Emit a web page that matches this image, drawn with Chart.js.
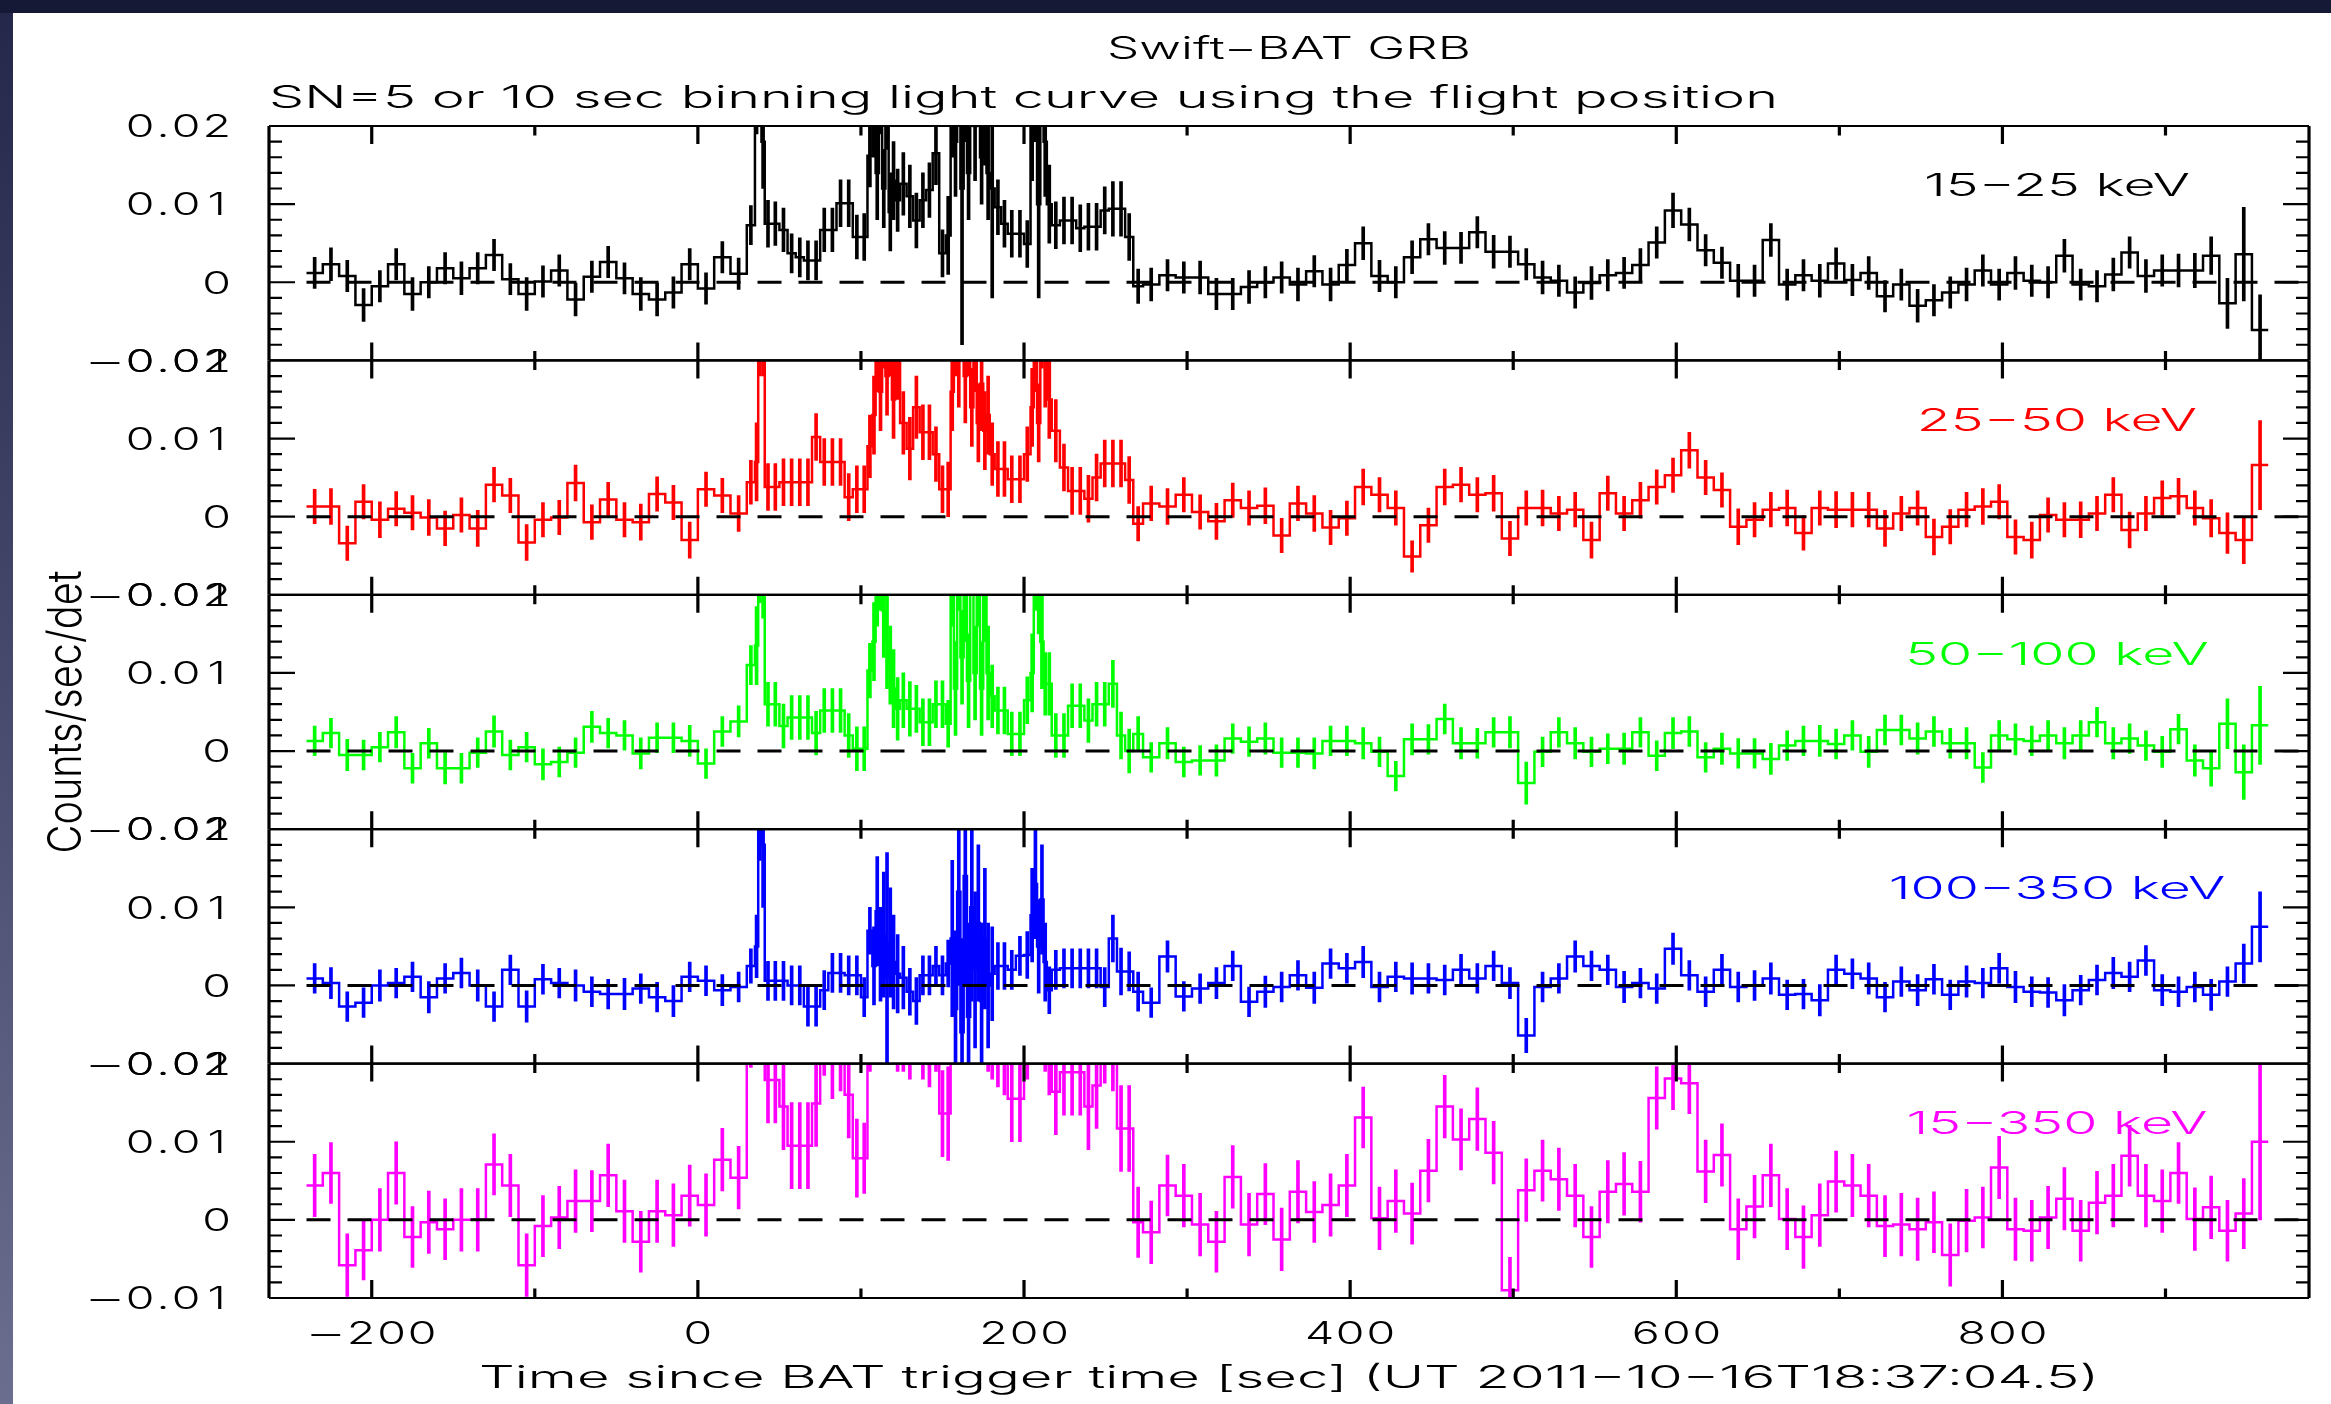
<!DOCTYPE html>
<html>
<head>
<meta charset="utf-8">
<title>Swift-BAT GRB light curve</title>
<script src="https://cdn.jsdelivr.net/npm/chart.js@4.4.0/dist/chart.umd.min.js"></script>
<style>
  html, body { margin: 0; padding: 0; background: #161936; }
  #lc { display: block; }
</style>
</head>
<body>
<canvas id="lc" width="2331" height="1404"></canvas>
<script>
// Rates and errors below are in units of 1e-3 counts/sec/det.
const RATE_UNIT = 1e-3;

// Bin edges in seconds since trigger (last entry closes the final bin).
const binEdges = [
  -240, -230, -220, -210, -200, -190, -180, -170, -160, -150,
  -140, -130, -120, -110, -100, -90, -80, -70, -60, -50,
  -40, -30, -20, -10, 0, 10, 20,
  30, 35, 37, 39, 41, 45, 50, 55, 60, 65, 70, 75, 80, 85, 90, 95, 100,
  104, 107, 109, 111, 113, 115, 117, 119, 121, 124, 128, 132, 136, 140, 144, 148, 152,
  155, 157, 159, 161, 163, 165, 167, 169, 171, 173, 175, 177, 179, 182, 186, 190, 195, 200,
  204, 206, 208, 210, 212, 214, 217, 222, 227, 232, 237, 242, 247, 252, 257, 262, 267,
  273, 283, 293, 303, 313, 323, 333, 343, 353, 363, 373, 383, 393, 403, 413, 423, 433, 443, 453, 463,
  473, 483, 493, 503, 513, 523, 533, 543, 553, 563, 573, 583, 593, 603, 613, 623, 633, 643, 653, 663,
  673, 683, 693, 703, 713, 723, 733, 743, 753, 763, 773, 783, 793, 803, 813, 823, 833, 843, 853, 863,
  873, 883, 893, 903, 913, 923, 933, 943, 953, 963
];

// 15-25 keV
const rate15_25 = [
  1.2, 2.3, 0.8, -2.9, -0.5, 2.3, -1.5, 0.0, 1.8, 0.5,
  1.8, 3.5, 0.4, -1.5, 0.1, 1.5, -2.2, 0.7, 2.6, 0.5,
  -1.5, -2.2, -1.3, 2.3, -0.8, 3.2, 1.1,
  7.3, 25, 28, 18, 7.5, 7.5, 6.7, 3.7, 3.2, 2.8,
  2.8, 6.7, 6.7, 10.1, 10.1, 5.8, 5.8, 16.2, 22, 14,
  26, 12, 24, 9, 13, 10.5, 12.6, 11, 7.9, 10.5,
  11.8, 16.5, 3.7, 6, 24, 18, 30, 12, 26, 14,
  28, 20, 32, 16, 22, 14, 12, 9.6, 7.5, 6.2,
  6.2, 4.9, 20, 26, 10, 30, 18, 10, 7.3, 7.9,
  7.9, 6.9, 7.1, 7.1, 9.2, 9.4, 9.4, 5.8, -0.5,
  -0.3, 0.9, 0.6, 0.6, -1.5, -1.5, -0.6, 0.0, 0.6, -0.3,
  1.4, -0.3, 2.2, 5.0, 0.8, 0.0, 3.2, 5.5, 4.4, 4.4,
  6.4, 3.9, 3.9, 2.3, 0.6, 0.2, -1.3, -0.1, 0.9, 1.2,
  2.2, 5.1, 9.2, 7.4, 4.1, 2.5, 0.2, 0.2, 5.4, -0.3,
  0.9, 0.2, 2.4, 0.3, 1.2, -1.8, -0.3, -3.0, -2.3, -1.3,
  -0.3, 1.5, -0.3, 1.2, 0.2, 0.0, 3.4, -0.3, -0.5, 1.0,
  3.8, 0.8, 1.5, 1.5, 1.5, 3.4, -2.7, 3.6, -6.1
];
const err15_25 = [
  2.0, 2.1, 2.0, 2.1, 2.0, 2.0, 2.1, 2.0, 2.0, 2.1,
  2.0, 2.0, 2.0, 2.1, 2.0, 2.0, 2.1, 2.0, 2.0, 2.0,
  2.1, 2.1, 2.0, 2.0, 2.0, 2.0, 2.0,
  2.5, 6, 7, 6, 3, 2.8, 2.8, 2.5, 2.5, 2.5,
  2.5, 2.8, 2.8, 3, 3, 2.8, 3, 4, 6, 6,
  7, 5, 7, 5, 5, 4, 4, 4, 3.5, 3.5,
  3.5, 4, 3, 5, 8, 7, 8, 20, 8, 6,
  8, 7, 9, 6, 7, 6, 14, 3.5, 3, 3,
  3, 3, 7, 8, 12, 9, 7, 5, 3, 3,
  3, 3, 3, 3, 3, 3.5, 3.5, 3, 2.2,
  2.1, 2.0, 2.0, 2.1, 2.0, 2.0, 2.1, 2.0, 2.0, 2.1,
  2.0, 2.1, 2.0, 2.1, 2.0, 2.0, 2.1, 2.0, 2.1, 2.0,
  2.0, 2.1, 2.0, 2.0, 2.1, 2.0, 2.0, 2.1, 2.0, 2.0,
  2.1, 2.0, 2.2, 2.1, 2.0, 2.0, 2.1, 2.0, 2.1, 2.0,
  2.0, 2.1, 2.0, 2.0, 2.1, 2.0, 2.0, 2.1, 2.0, 2.0,
  2.1, 2.0, 2.0, 2.1, 2.0, 2.0, 2.1, 2.0, 2.0, 2.1,
  2.0, 2.1, 2.0, 2.1, 2.2, 2.4, 3.2, 6.0, 4.5
];

// 25-50 keV
const rate25_50 = [
  1.3, 1.3, -3.4, 1.9, -0.4, 1.0, 0.5, -0.1, -1.5, 0.2,
  -1.5, 4.1, 2.7, -3.3, -0.4, -0.1, 4.3, -0.7, 2.2, -0.4,
  -0.7, 2.9, 1.8, -3.0, 3.5, 2.7, 0.4,
  4.4, 7.0, 25, 25, 3.8, 3.8, 4.4, 4.4, 4.4, 4.4,
  10.2, 7.0, 7.0, 7.0, 2.5, 3.5, 3.5, 9.0, 13, 22,
  16, 26, 18, 24, 15, 20, 12, 8.7, 14, 10.8,
  10.8, 8.0, 3.5, 3.5, 16, 24, 20, 28, 18, 25,
  14, 22, 12, 17, 11, 13, 8, 6.1, 6.1, 4.8,
  4.8, 8.0, 14, 22, 12, 26, 20, 15, 11, 6.3,
  3.3, 3.3, 2.3, 5.0, 6.8, 6.8, 6.8, 4.7, -0.9,
  1.7, 1.3, 2.8, 0.6, -0.6, 2.1, 1.1, 1.4, -2.4, 1.7,
  0.4, -1.4, -0.2, 3.8, 2.8, 1.1, -5.1, -1.1, 3.8, 4.1,
  2.8, 3.0, -2.8, 1.1, 1.1, 0.4, 0.9, -3.0, 3.0, 0.4,
  2.1, 3.8, 5.3, 8.5, 5.0, 3.4, -1.3, -0.4, 0.9, 1.1,
  -2.1, 1.1, 0.9, 0.9, 0.9, -1.5, 0.4, 1.1, -2.6, -1.3,
  0.9, 1.3, 1.9, -2.6, -3.0, 0.2, -0.4, -0.4, 0.4, 2.8,
  -1.7, 0.4, 2.4, 2.6, 1.1, -0.2, -2.1, -3.0, 6.6
];
const err25_50 = [
  2.2, 2.3, 2.2, 2.2, 2.3, 2.2, 2.2, 2.3, 2.2, 2.2,
  2.3, 2.2, 2.2, 2.3, 2.2, 2.2, 2.3, 2.2, 2.2, 2.2,
  2.3, 2.2, 2.2, 2.3, 2.2, 2.2, 2.3,
  2.8, 5, 7, 7, 3, 3, 3, 3, 3, 3,
  3, 3, 3, 3, 3, 3, 3, 4, 5, 6,
  5, 7, 5, 6, 5, 5, 4, 4, 4, 3.5,
  3.5, 3.5, 3, 3.5, 5, 6, 6, 7, 6, 7,
  5, 6, 5, 6, 5, 5, 4, 3.5, 3.5, 3,
  3, 3.5, 5, 6, 5, 7, 6, 5, 4, 3,
  3, 3, 3, 3, 3, 3, 3, 3, 2.2,
  2.2, 2.3, 2.2, 2.2, 2.3, 2.2, 2.2, 2.3, 2.2, 2.2,
  2.3, 2.2, 2.2, 2.3, 2.2, 2.2, 2.0, 2.2, 2.3, 2.2,
  2.2, 2.3, 2.2, 2.2, 2.3, 2.2, 2.2, 2.3, 2.2, 2.2,
  2.3, 2.2, 2.2, 2.3, 2.2, 2.2, 2.3, 2.2, 2.2, 2.3,
  2.2, 2.2, 2.3, 2.2, 2.2, 2.3, 2.2, 2.2, 2.3, 2.2,
  2.2, 2.3, 2.2, 2.2, 2.3, 2.2, 2.2, 2.3, 2.2, 2.2,
  2.3, 2.2, 2.2, 2.3, 2.2, 2.4, 2.6, 3.0, 5.7
];

// 50-100 keV
const rate50_100 = [
  1.3, 2.3, -0.5, -0.5, 0.5, 2.4, -2.2, 1.0, -2.2, -2.2,
  -0.2, 2.5, -0.5, 0.5, -1.7, -1.4, -0.2, 3.1, 2.3, 2.0,
  -0.3, 1.7, 1.7, 1.3, -1.6, 2.5, 3.8,
  11.0, 13.5, 26, 24, 6.0, 6.0, 3.2, 4.3, 4.3, 4.3,
  2.3, 5.2, 5.2, 5.2, 2.0, 0.3, 0.3, 10.3, 14, 22,
  25, 18, 14, 11, 8, 5.4, 6.5, 5.4, 5.4, 3.7,
  3.7, 6.0, 6.0, 3.5, 24, 8, 26, 12, 22, 9,
  28, 10, 24, 8, 22, 10, 7, 5.2, 5.2, 2.2,
  2.2, 6.5, 10, 25, 22, 14, 8.6, 8.6, 2.0, 2.0,
  5.8, 5.8, 3.9, 6.0, 6.0, 8.6, 2.0, 0.0, 2.2,
  -0.8, 1.0, -1.4, -1.2, -1.2, 1.6, 1.2, 1.6, -0.2, -0.2,
  -0.3, 1.3, 1.3, 1.0, -0.1, -3.2, 1.5, 1.5, 4.1, 1.0,
  1.0, 2.4, 2.4, -4.1, -0.1, 2.4, 1.0, -0.1, 0.3, 0.3,
  2.4, -0.6, 2.3, 2.5, -0.8, 0.3, -0.3, -0.3, -1.0, 0.7,
  1.3, 1.3, 0.9, 2.0, -0.1, 2.7, 2.7, 1.6, 2.5, 1.0,
  1.0, -2.1, 2.0, 1.5, 1.3, 2.0, 1.0, 2.0, 3.7, 1.0,
  1.6, 0.7, -0.1, 2.8, -1.2, -2.2, 3.5, -2.7, 3.3
];
const err50_100 = [
  1.9, 1.9, 2.0, 1.9, 1.9, 2.0, 1.9, 1.9, 2.0, 1.9,
  1.9, 2.0, 1.9, 1.9, 2.0, 1.9, 1.9, 2.0, 1.9, 1.9,
  2.0, 1.9, 1.9, 2.0, 1.9, 1.9, 2.0,
  2.5, 5, 7, 7, 2.8, 2.8, 2.8, 2.8, 2.8, 2.8,
  2.8, 2.8, 2.8, 2.8, 2.8, 2.8, 2.8, 3.5, 5, 6,
  7, 6, 6, 5, 5, 4, 3.5, 3.5, 3, 3,
  3, 3, 3, 3, 8, 6, 8, 6, 8, 6,
  8, 6, 8, 6, 8, 6, 4, 3, 3, 2.8,
  2.8, 3, 5, 7, 7, 6, 4, 4, 2.8, 2.8,
  2.8, 2.8, 2.8, 2.8, 2.8, 3, 3, 2.8, 2.2,
  1.9, 2.0, 1.9, 1.9, 2.0, 1.9, 1.9, 2.0, 1.9, 1.9,
  2.0, 1.9, 1.9, 2.0, 1.9, 1.9, 2.0, 1.9, 1.9, 2.0,
  1.9, 1.9, 2.0, 2.7, 1.9, 1.9, 2.0, 1.9, 1.9, 2.0,
  1.9, 1.9, 2.0, 1.9, 1.9, 2.0, 1.9, 1.9, 2.0, 1.9,
  1.9, 2.0, 1.9, 1.9, 2.0, 1.9, 1.9, 2.0, 1.9, 1.9,
  2.0, 1.9, 1.9, 2.0, 1.9, 1.9, 2.0, 1.9, 1.9, 2.0,
  1.9, 1.9, 2.0, 1.9, 2.0, 2.3, 3.2, 3.5, 5.0
];

// 100-350 keV
const rate100_350 = [
  0.9, 0.3, -2.7, -2.2, 0.0, 0.3, 1.1, -1.5, 0.9, 1.6,
  0.0, -2.7, 2.0, -2.7, 0.8, 0.3, 0.0, -0.8, -1.1, -1.1,
  -0.4, -1.5, -2.0, 1.1, 0.6, -0.6, -0.2,
  2.5, 5.0, 24, 18, 0.6, 0.6, 0.6, 0.0, 0.0, -2.7,
  -2.7, -0.6, 1.6, 1.6, 1.3, 1.3, -1.5, 7.0, 2.5, 9.5,
  4.0, 6.5, 1.0, 5.5, 3.0, 1.5, 1.0, -0.8, -2.0, 1.3,
  1.3, 2.5, 1.3, 2.8, 6, -3, 12, -6, 14, -4,
  10, 2, 8, -2, 6, 0, 1.5, 2.5, 2.5, 2.0,
  3.8, 3.9, 9, 13, 5, 11, 3, -0.6, 2.0, 2.2,
  2.2, 2.2, 2.2, 2.2, -0.2, 6.0, 1.8, 1.8, -0.8,
  -2.2, 3.7, -1.4, -0.4, 0.3, 2.5, -2.1, -0.8, -0.2, 1.3,
  -0.3, 2.8, 2.2, 3.0, -0.2, 1.1, 0.9, 0.9, 0.7, 2.0,
  0.9, 2.5, 0.3, -6.4, -0.2, 0.9, 3.7, 2.5, 2.0, -0.2,
  0.3, -0.4, 4.7, 1.3, -0.8, 2.0, -0.2, 0.0, 0.9, -1.2,
  -1.1, -1.9, 2.0, 1.5, 0.9, -1.5, 0.5, -0.6, 0.8, -1.2,
  0.5, 0.3, 2.2, -0.2, -0.8, -0.9, -1.9, -0.6, 0.7, 1.6,
  1.1, 3.2, -0.6, -0.8, -0.2, -1.2, 0.5, 2.8, 7.5
];
const err100_350 = [
  1.9, 2.0, 1.9, 1.9, 2.0, 1.9, 1.9, 2.0, 1.9, 1.9,
  2.0, 1.9, 1.9, 2.0, 1.9, 1.9, 2.0, 1.9, 1.9, 2.0,
  1.9, 1.9, 2.0, 1.9, 1.9, 2.0, 1.9,
  2.2, 4, 8, 8, 2.5, 2.5, 2.5, 2.5, 2.5, 2.5,
  2.5, 2.5, 2.5, 2.5, 2.5, 2.5, 2.5, 3, 5, 7,
  6, 8, 16, 7, 6, 5, 4, 3, 3, 2.5,
  2.5, 2.5, 2.5, 3, 10, 10, 12, 12, 14, 12,
  12, 10, 10, 10, 9, 8, 6, 3, 3, 2.5,
  2.5, 3, 6, 7, 6, 7, 5, 3, 2.5, 2.5,
  2.5, 2.5, 2.5, 2.5, 2.5, 3, 3, 2.5, 2.5,
  1.9, 2.0, 1.9, 1.9, 2.0, 1.9, 1.9, 2.0, 1.9, 1.9,
  2.0, 1.9, 1.9, 2.0, 1.9, 1.9, 2.0, 1.9, 1.9, 2.0,
  1.9, 1.9, 2.0, 2.2, 1.9, 1.9, 2.0, 1.9, 1.9, 2.0,
  1.9, 1.9, 2.0, 1.9, 1.9, 2.0, 1.9, 1.9, 2.0, 1.9,
  1.9, 2.0, 1.9, 1.9, 2.0, 1.9, 1.9, 2.0, 1.9, 1.9,
  2.0, 1.9, 1.9, 2.0, 1.9, 1.9, 2.0, 1.9, 1.9, 2.0,
  1.9, 1.9, 2.0, 1.9, 1.9, 2.0, 1.9, 2.5, 4.5
];

// 15-350 keV
const rate15_350 = [
  4.4, 6.0, -5.8, -3.9, 0.0, 6.0, -2.2, -0.3, -1.2, 0.0,
  0.0, 7.1, 4.4, -5.8, -0.8, 0.3, 2.4, 2.4, 5.7, 1.1,
  -2.8, 1.1, 0.6, 3.1, 1.9, 7.7, 5.4,
  24, 30, 32, 28, 17.9, 17.9, 14.5, 9.5, 9.5, 9.5,
  14.9, 24, 21, 22, 16.0, 7.9, 7.9, 25, 30, 34,
  36, 34, 35, 30, 28, 26, 25, 24, 26, 24,
  23, 25, 13.6, 13.6, 30, 36, 38, 35, 40, 36,
  38, 34, 36, 32, 30, 28, 26, 23, 22, 15.5,
  15.5, 24, 30, 36, 30, 34, 28, 24, 16.4, 18.9,
  18.9, 18.9, 14.5, 17.2, 23, 22, 11.7, 11.7, -0.3,
  -1.6, 4.4, 3.1, -0.6, -2.8, 5.5, -0.6, 3.3, -2.5, 3.6,
  1.0, 1.9, 4.4, 13.1, 0.2, 2.4, 0.8, 6.3, 14.5, 10.3,
  12.9, 8.6, -9.0, 3.8, 6.3, 5.2, 3.1, -2.2, 3.6, 4.6,
  3.6, 15.6, 18.1, 17.5, 6.2, 8.3, -1.2, 1.7, 5.7, 0.1,
  -2.2, 0.6, 4.9, 4.4, 3.1, -0.8, -0.6, -1.2, -0.3, -4.5,
  -0.1, 0.3, 6.7, -1.2, -1.4, 0.3, 2.7, -1.4, 2.2, 3.1,
  8.2, 3.1, 2.4, 6.0, 0.1, 1.6, -1.4, 0.8, 10.0
];
const err15_350 = [
  4.0, 3.9, 4.0, 3.8, 4.0, 4.0, 3.9, 4.0, 3.9, 4.0,
  4.0, 3.9, 4.0, 4.0, 3.9, 4.0, 4.0, 3.9, 4.0, 4.0,
  3.9, 4.0, 4.0, 3.9, 4.0, 4.0, 4.0,
  4.5, 7, 8, 8, 5.5, 5.5, 5.5, 5.5, 5.5, 5.5,
  5.5, 5.5, 5.5, 5.5, 5.5, 5, 4.5, 6, 8, 8,
  8, 8, 8, 8, 8, 7, 6, 6, 6, 6,
  6, 6, 5.5, 6, 9, 9, 9, 9, 9, 9,
  9, 9, 9, 9, 9, 9, 8, 6, 6, 5.5,
  5.5, 6, 9, 9, 9, 9, 9, 8, 5.5, 5.5,
  5.5, 5.5, 5.5, 5.5, 5.5, 5.5, 5.5, 5.5, 4.5,
  4.0, 3.9, 4.0, 4.0, 3.9, 4.0, 4.0, 3.9, 4.0, 4.0,
  3.9, 4.0, 4.0, 3.9, 4.0, 4.0, 3.9, 4.0, 4.0, 3.9,
  4.0, 4.0, 4.2, 4.0, 3.9, 4.0, 4.0, 3.9, 4.0, 4.0,
  3.9, 4.0, 4.0, 3.9, 4.0, 4.0, 3.9, 4.0, 4.0, 3.9,
  4.0, 4.0, 3.9, 4.0, 4.0, 3.9, 4.0, 4.0, 3.9, 4.0,
  4.0, 3.9, 4.0, 4.0, 3.9, 4.0, 4.0, 3.9, 4.0, 4.0,
  3.9, 4.0, 4.0, 3.9, 4.0, 4.0, 3.9, 4.5, 10.0
];

const bandLabels = ['15−25 keV', '25−50 keV', '50−100 keV', '100−350 keV', '15−350 keV'];
const bandColors = ['#000000', '#ff0000', '#00ff00', '#0000ff', '#ff00ff'];
const bandRates = [rate15_25, rate25_50, rate50_100, rate100_350, rate15_350];
const bandErrors = [err15_25, err25_50, err50_100, err100_350, err15_350];

// axis ticks
const X_MIN = -263, X_MAX = 988;
const Y_MIN = -0.01, Y_MAX = 0.02;
const xMajorTicks = [-200, 0, 200, 400, 600, 800];
const xTickLabels = ['−200', '0', '200', '400', '600', '800'];
const xMinorTicks = [-100, 100, 300, 500, 700, 900];
const yMajorTicks = [-0.01, 0, 0.01, 0.02];
const yTickLabels = ['−0.01', '0', '0.01', '0.02'];
const yMinorTicks = [-0.008, -0.006, -0.004, -0.002, 0.002, 0.004, 0.006, 0.008,
                     0.012, 0.014, 0.016, 0.018];

// page layout (pixels)
const W = 2331, H = 1404;
const PLOT = { left: 269, right: 2309, top: 126, bottom: 1298 };
const FONT_PX = 31;
const FONT = `300 ${FONT_PX}px Inter, "DejaVu Sans", sans-serif`;
const CAP_MID = 0.364;   // half of the cap height, in em

// numeric labels use fixed advances like the plotting package's stroke font
const NUM_UNIT = 1.53;
const NUM_ADVANCE = { '.': 10, '−': 26 };
const NUM_DIGIT_ADVANCE = 20;
const NUM_SX = { '−': 2.1 };
const NUM_DIGIT_SX = 1.5;

function stepPoints(rate) {
  const pts = rate.map((v, i) => ({ x: binEdges[i], y: v * RATE_UNIT }));
  pts.push({ x: binEdges[rate.length], y: rate[rate.length - 1] * RATE_UNIT });
  return pts;
}

function errorBars(rate, err) {
  return rate.map((v, i) => ({
    x: (binEdges[i] + binEdges[i + 1]) / 2,
    y: [(v - err[i]) * RATE_UNIT, (v + err[i]) * RATE_UNIT]
  }));
}

const datasets = [];
const scales = {
  x: {
    type: 'linear', position: 'bottom', min: X_MIN, max: X_MAX, offset: false,
    grid: { display: false }, border: { display: false },
    ticks: { display: false, stepSize: 200, includeBounds: false },
    afterFit: s => { s.height = H - PLOT.bottom; }
  }
};

bandLabels.forEach((label, b) => {
  const yID = 'y' + b;
  scales[yID] = {
    type: 'linear', position: 'left', stack: 'bands', stackWeight: 1, weight: 5 - b,
    min: Y_MIN, max: Y_MAX, offset: false,
    grid: { display: false }, border: { display: false },
    ticks: { display: false, stepSize: 0.01 },
    afterFit: s => { s.width = PLOT.left; }
  };
  datasets.push({
    type: 'line', label, yAxisID: yID, data: stepPoints(bandRates[b]),
    stepped: 'before', borderColor: bandColors[b], borderWidth: 2.5,
    pointRadius: 0, fill: false, clip: 0, order: 2
  });
  datasets.push({
    type: 'bar', label: label + ' error', yAxisID: yID, data: errorBars(bandRates[b], bandErrors[b]),
    backgroundColor: bandColors[b], borderWidth: 0, barThickness: 3, grouped: false,
    clip: 0, order: 2
  });
  datasets.push({
    type: 'line', label: label + ' zero', yAxisID: yID,
    data: [{ x: binEdges[0], y: 0 }, { x: X_MAX, y: 0 }],
    borderColor: '#000000', borderWidth: 3, borderDash: [24, 17],
    pointRadius: 0, fill: false, clip: 0, order: 1
  });
});

function textWidth(ctx, text) {
  ctx.save();
  ctx.font = FONT;
  const w = ctx.measureText(text).width;
  ctx.restore();
  return w;
}

// Stroke-font text is wide, so every label is drawn with a horizontal stretch.
function stretchedText(ctx, text, x, y, align, sx, color) {
  ctx.save();
  ctx.font = FONT;
  ctx.fillStyle = color;
  ctx.textAlign = align;
  ctx.textBaseline = 'alphabetic';
  ctx.translate(x, y);
  ctx.scale(sx, 1);
  ctx.fillText(text, 0, FONT_PX * CAP_MID);
  ctx.restore();
}

// Tick numbers: one glyph per fixed cell, so stacked labels line up digit by digit.
function numberText(ctx, text, x, y, align) {
  const chars = [...text];
  const adv = chars.map(c => (NUM_ADVANCE[c] || NUM_DIGIT_ADVANCE) * NUM_UNIT);
  const total = adv.reduce((a, b) => a + b, 0);
  let cx = align === 'right' ? x - total : x - total / 2;
  chars.forEach((c, i) => {
    stretchedText(ctx, c, cx + adv[i] / 2, y, 'center', NUM_SX[c] || NUM_DIGIT_SX, '#000000');
    cx += adv[i];
  });
}

const backdrop = {
  id: 'backdrop',
  beforeDraw(chart) {
    const ctx = chart.ctx;
    ctx.save();
    ctx.fillStyle = '#161936';
    ctx.fillRect(0, 0, W, H);
    const g = ctx.createLinearGradient(0, 0, 0, H);
    g.addColorStop(0, '#24274a');
    g.addColorStop(1, '#6c6e90');
    ctx.fillStyle = g;
    ctx.fillRect(0, 13, 13, H - 13);
    ctx.fillStyle = '#ffffff';
    ctx.fillRect(13, 13, W - 13, H - 13);
    ctx.restore();
  }
};

const panelFrames = {
  id: 'panelFrames',
  afterDatasetsDraw(chart) {
    const ctx = chart.ctx;
    const xs = chart.scales.x;
    const L = xs.left, R = xs.right;
    ctx.save();
    ctx.strokeStyle = '#000000';
    ctx.lineCap = 'butt';
    bandLabels.forEach((_, b) => {
      const ys = chart.scales['y' + b];
      const T = ys.top, B = ys.bottom;
      ctx.lineWidth = 2.2;
      ctx.beginPath();
      yMajorTicks.forEach(v => {
        const y = ys.getPixelForValue(v);
        ctx.moveTo(L, y); ctx.lineTo(L + 26, y);
        ctx.moveTo(R, y); ctx.lineTo(R - 26, y);
      });
      yMinorTicks.forEach(v => {
        const y = ys.getPixelForValue(v);
        ctx.moveTo(L, y); ctx.lineTo(L + 13, y);
        ctx.moveTo(R, y); ctx.lineTo(R - 13, y);
      });
      ctx.moveTo(L, T); ctx.lineTo(R, T);
      ctx.moveTo(L, B); ctx.lineTo(R, B);
      ctx.stroke();
      ctx.lineWidth = 3.2;
      ctx.beginPath();
      xMajorTicks.forEach(v => {
        const x = xs.getPixelForValue(v);
        ctx.moveTo(x, T); ctx.lineTo(x, T + 18);
        ctx.moveTo(x, B); ctx.lineTo(x, B - 18);
      });
      xMinorTicks.forEach(v => {
        const x = xs.getPixelForValue(v);
        ctx.moveTo(x, T); ctx.lineTo(x, T + 9.5);
        ctx.moveTo(x, B); ctx.lineTo(x, B - 9.5);
      });
      ctx.moveTo(L, T); ctx.lineTo(L, B);
      ctx.moveTo(R, T); ctx.lineTo(R, B);
      ctx.stroke();
    });
    ctx.restore();
  }
};

const labelText = {
  id: 'labelText',
  afterDraw(chart) {
    const ctx = chart.ctx;
    const xs = chart.scales.x;
    const midX = (xs.left + xs.right) / 2;

    bandLabels.forEach((label, b) => {
      const ys = chart.scales['y' + b];
      yMajorTicks.forEach((v, i) => {
        numberText(ctx, yTickLabels[i], xs.left - 37, ys.getPixelForValue(v), 'right');
      });
    });
    xMajorTicks.forEach((v, i) => {
      numberText(ctx, xTickLabels[i], xs.getPixelForValue(v), 1333, 'center');
    });

    const bandSx = 266 / textWidth(ctx, bandLabels[0]);
    bandLabels.forEach((label, b) => {
      const ys = chart.scales['y' + b];
      stretchedText(ctx, label, 2057, ys.top + 59, 'center', bandSx, bandColors[b]);
    });

    const title = 'Swift−BAT GRB';
    const subtitle = 'SN=5 or 10 sec binning light curve using the flight position';
    const xTitle = 'Time since BAT trigger time [sec] (UT 2011−10−16T18:37:04.5)';
    stretchedText(ctx, title, midX, 48, 'center', 364 / textWidth(ctx, title), '#000000');
    stretchedText(ctx, subtitle, xs.left, 97, 'left', 1509 / textWidth(ctx, subtitle), '#000000');
    stretchedText(ctx, xTitle, midX, 1377, 'center', 1620 / textWidth(ctx, xTitle), '#000000');

    // rotated y title: glyph height stretched, length fitted
    const yTitle = 'Counts/sec/det';
    const top = chart.scales.y0.top, bottom = chart.scales.y4.bottom;
    const len = textWidth(ctx, yTitle);
    ctx.save();
    ctx.font = FONT;
    ctx.fillStyle = '#000000';
    ctx.textAlign = 'center';
    ctx.textBaseline = 'alphabetic';
    ctx.translate(64, (top + bottom) / 2);
    ctx.scale(1.5, 1);
    ctx.rotate(-Math.PI / 2);
    ctx.scale(283 / len, 1);
    ctx.fillText(yTitle, 0, FONT_PX * CAP_MID);
    ctx.restore();
  }
};

new Chart(document.getElementById('lc'), {
  type: 'line',
  data: { datasets },
  options: {
    responsive: false,
    devicePixelRatio: 1,
    animation: false,
    events: [],
    layout: { padding: { left: 0, right: W - PLOT.right, top: PLOT.top, bottom: 0 } },
    plugins: { legend: { display: false }, tooltip: { enabled: false }, title: { display: false } },
    scales
  },
  plugins: [backdrop, panelFrames, labelText]
});
</script>
</body>
</html>
